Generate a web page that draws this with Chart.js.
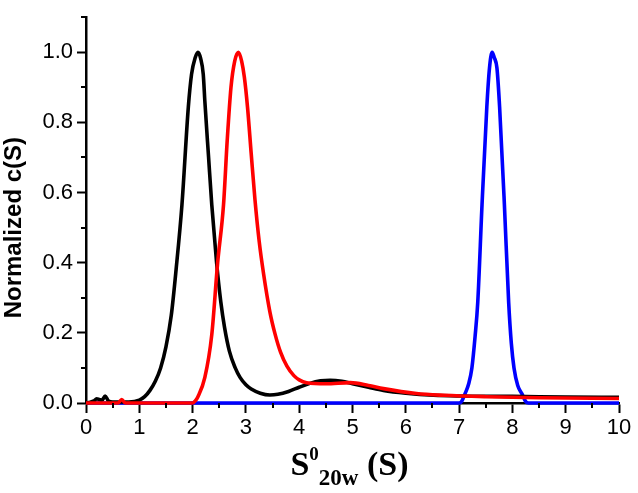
<!DOCTYPE html>
<html><head><meta charset="utf-8">
<script src="https://cdn.jsdelivr.net/npm/chart.js@4/dist/chart.umd.min.js"></script>
<style>html,body{margin:0;padding:0;background:#fff}#wrap{width:638px;height:493px;position:relative}</style>
</head><body><div id="wrap"><canvas id="c" width="638" height="493"></canvas></div>
<script>
// ---- data ----
const blackX = [0,0.08,0.15,0.2,0.25,0.3,0.36,0.42,0.5,0.8,1.0,1.1,1.2,1.3,1.4,1.5,1.6,1.69,1.8,1.92,1.98,2.05,2.1,2.15,2.2,2.23,2.3,2.36,2.45,2.53,2.6,2.69,2.8,2.89,3.0,3.1,3.27,3.45,3.6,3.8,4.0,4.2,4.4,4.58,4.8,5.0,5.3,5.58,6.0,6.52,7.0,8.0,9.0,10.0];
const blackY = [0,0.002,0.006,0.012,0.01,0.008,0.02,0.006,0.003,0.003,0.008,0.018,0.036,0.062,0.10,0.16,0.25,0.38,0.565,0.844,0.937,0.985,1.0,0.983,0.937,0.86,0.70,0.565,0.40,0.287,0.215,0.148,0.10,0.073,0.052,0.04,0.028,0.023,0.025,0.033,0.045,0.056,0.063,0.065,0.062,0.055,0.045,0.036,0.028,0.022,0.02,0.019,0.017,0.016];
const redX = [0,0.6,0.67,0.74,1.0,2.0,2.05,2.1,2.23,2.36,2.47,2.58,2.65,2.72,2.79,2.86,2.92,2.97,3.03,3.1,3.17,3.25,3.33,3.45,3.55,3.65,3.77,3.9,4.0,4.14,4.5,4.96,5.3,5.58,6.2,6.72,7.5,8.5,10.0];
const redY = [0,0,0.01,0,0,0,0.006,0.018,0.073,0.195,0.40,0.565,0.75,0.90,0.975,1.0,0.975,0.93,0.844,0.71,0.58,0.46,0.37,0.26,0.195,0.145,0.105,0.078,0.066,0.058,0.055,0.058,0.05,0.041,0.027,0.022,0.018,0.015,0.013];
const blueX = [0,7.0,7.05,7.11,7.18,7.24,7.3,7.35,7.43,7.52,7.57,7.62,7.66,7.71,7.76,7.85,7.93,7.98,8.03,8.1,8.18,8.25,8.3,10.0];
const blueY = [0,0,0.005,0.026,0.055,0.10,0.19,0.287,0.565,0.844,0.955,1.0,0.985,0.955,0.844,0.565,0.287,0.17,0.10,0.05,0.026,0.004,0,0];

const xTickValues = [0,1,2,3,4,5,6,7,8,9,10];
const xTickLabels = ['0','1','2','3','4','5','6','7','8','9','10'];
const xMinorValues = [0.5,1.5,2.5,3.5,4.5,5.5,6.5,7.5,8.5,9.5];
const yTickValues = [0,0.2,0.4,0.6,0.8,1.0];
const yTickLabels = ['0.0','0.2','0.4','0.6','0.8','1.0'];
const yMinorValues = [0.1,0.3,0.5,0.7,0.9,1.1];

const yTitle = 'Normalized c(S)';
const xTitleMain = 'S';
const xTitleSup = '0';
const xTitleSub = '20w';
const xTitleTail = ' (S)';

const toPts = (xs, ys) => xs.map((x, i) => ({x: x, y: ys[i]}));

const SANS = "'Liberation Sans', Arial, sans-serif";
const SERIF = "'Liberation Serif', 'Times New Roman', serif";

const decor = {
  id: 'decor',
  afterDraw(chart) {
    const ctx = chart.ctx;
    const xs = chart.scales.x, ys = chart.scales.y;
    ctx.save();
    ctx.strokeStyle = '#000';
    ctx.lineWidth = 2;
    ctx.beginPath();
    xMinorValues.forEach(v => {
      const px = Math.round(xs.getPixelForValue(v));
      ctx.moveTo(px, xs.top); ctx.lineTo(px, xs.top + 5);
    });
    yMinorValues.forEach(v => {
      const py = Math.round(ys.getPixelForValue(v));
      ctx.moveTo(ys.right, py); ctx.lineTo(ys.right - 5, py);
    });
    ctx.stroke();

    // y title
    ctx.fillStyle = '#000';
    const yc = (ys.getPixelForValue(0) + ys.getPixelForValue(1)) / 2;
    ctx.save();
    ctx.translate(14, yc);
    ctx.rotate(-Math.PI / 2);
    ctx.font = 'bold 24px ' + SANS;
    ctx.textAlign = 'center';
    ctx.textBaseline = 'middle';
    ctx.fillText(yTitle, 0, 0);
    ctx.restore();

    // x title with super/subscript
    const fMain = 'bold 34px ' + SERIF, fSup = 'bold 19px ' + SERIF, fSub = 'bold 23px ' + SERIF;
    ctx.textAlign = 'left';
    ctx.textBaseline = 'alphabetic';
    ctx.font = fMain; const w1 = ctx.measureText(xTitleMain).width; const w4 = ctx.measureText(xTitleTail).width;
    ctx.font = fSup; const w2 = ctx.measureText(xTitleSup).width;
    ctx.font = fSub; const w3 = ctx.measureText(xTitleSub).width;
    const total = w1 + w2 + w3 + w4;
    const cx = (chart.chartArea.left + chart.chartArea.right) / 2 - 3;
    let x0 = cx - total / 2;
    const base = chart.chartArea.bottom + 72;
    ctx.font = fMain; ctx.fillText(xTitleMain, x0, base); x0 += w1;
    ctx.font = fSup; ctx.fillText(xTitleSup, x0, base - 15); x0 += w2;
    ctx.font = fSub; ctx.fillText(xTitleSub, x0, base + 10); x0 += w3;
    ctx.font = fMain; ctx.fillText(xTitleTail, x0, base);
    ctx.restore();
  }
};

const common = {borderWidth: 3.6, pointRadius: 0, fill: false, cubicInterpolationMode: 'monotone', clip: false, borderJoinStyle: 'round'};

new Chart(document.getElementById('c').getContext('2d'), {
  type: 'line',
  data: {
    datasets: [
      Object.assign({label: 'red', data: toPts(redX, redY), borderColor: '#ff0000'}, common),
      Object.assign({label: 'black', data: toPts(blackX, blackY), borderColor: '#000000'}, common),
      Object.assign({label: 'blue', data: toPts(blueX, blueY), borderColor: '#0000ff'}, common)
    ]
  },
  options: {
    responsive: false,
    animation: false,
    devicePixelRatio: 1,
    layout: {padding: {left: 0, right: 19, top: 7, bottom: 0}},
    plugins: {legend: {display: false}, tooltip: {enabled: false}},
    scales: {
      x: {
        type: 'linear', min: 0, max: 10,
        afterBuildTicks: s => { s.ticks = xTickValues.map(v => ({value: v})); },
        afterFit: s => { s.height = 90; },
        grid: {display: true, drawOnChartArea: false, drawTicks: true, tickLength: 10, tickWidth: 2, tickColor: '#000'},
        border: {display: true, color: '#000', width: 2.5},
        ticks: {
          color: '#000', padding: 2, maxRotation: 0, autoSkip: false,
          font: {family: SANS, size: 22},
          callback: (v) => { const i = xTickValues.indexOf(v); return i >= 0 ? xTickLabels[i] : ''; }
        },
        title: {display: false}
      },
      y: {
        type: 'linear', min: 0, max: 1.1,
        afterBuildTicks: s => { s.ticks = yTickValues.map(v => ({value: v})); },
        afterFit: s => { s.width = 86; },
        grid: {display: true, drawOnChartArea: false, drawTicks: true, tickLength: 9, tickWidth: 2, tickColor: '#000'},
        border: {display: true, color: '#000', width: 2.5},
        ticks: {
          color: '#000', padding: 4, autoSkip: false,
          font: {family: SANS, size: 22},
          callback: (v) => { const i = yTickValues.findIndex(t => Math.abs(t - v) < 1e-9); return i >= 0 ? yTickLabels[i] : ''; }
        },
        title: {display: false}
      }
    }
  },
  plugins: [decor]
});
</script>
</body></html>
